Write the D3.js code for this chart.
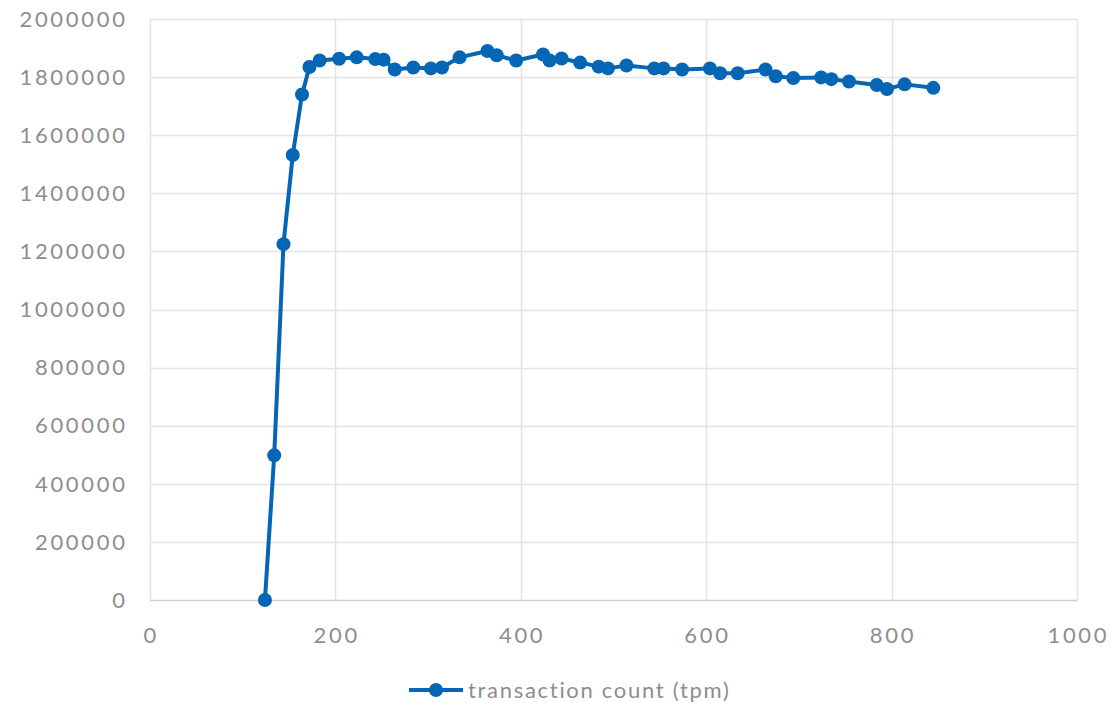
<!DOCTYPE html>
<html>
<head>
<meta charset="utf-8">
<script src="https://cdn.jsdelivr.net/npm/d3@7"></script>
<style>
  html, body { margin: 0; padding: 0; background: #fff; }
  svg { display: block; }
  text { font-family: "Lato", "Open Sans", sans-serif; fill: #8e8e8e; }
</style>
</head>
<body>
<svg id="chart" width="1111" height="703"></svg>
<script>
const seriesName = "transaction count (tpm)";
const xValues = [124, 134, 144, 154, 164, 172, 183, 204, 223, 243, 252, 264, 284, 303, 315, 334, 364, 374, 395, 424, 431, 444, 464, 484, 494, 514, 544, 554, 574, 604, 615, 634, 664, 675, 694, 724, 735, 754, 784, 795, 814, 845];
const yValues = [0, 498000, 1225000, 1532000, 1740000, 1835000, 1857000, 1863000, 1868000, 1862000, 1860000, 1826000, 1833000, 1830000, 1833000, 1868000, 1890000, 1875000, 1857000, 1878000, 1857000, 1864000, 1850000, 1836000, 1830000, 1840000, 1830000, 1830000, 1826000, 1830000, 1813000, 1813000, 1826000, 1803000, 1797000, 1799000, 1793000, 1785000, 1773000, 1759000, 1775000, 1763000];
const xTicks = [0, 200, 400, 600, 800, 1000];
const yTicks = [0, 200000, 400000, 600000, 800000, 1000000, 1200000, 1400000, 1600000, 1800000, 2000000];

(function () {
const color = "#0566b5";
const svg = d3.select("#chart");
const pl = 150, pr = 1077, pt = 19, pb = 600;
const x = d3.scaleLinear().domain([0, 1000]).range([pl, pr]);
const y = d3.scaleLinear().domain([0, 2000000]).range([pb, pt]);

// gridlines
svg.append("g").selectAll("line").data(yTicks).join("line")
  .attr("x1", pl).attr("x2", pr)
  .attr("y1", d => Math.round(y(d)) + 0.5).attr("y2", d => Math.round(y(d)) + 0.5)
  .attr("stroke", d => d === 0 ? "#d0d0d0" : "#e3e3e3").attr("stroke-width", 1.5);
svg.append("g").selectAll("line").data(xTicks).join("line")
  .attr("y1", pt).attr("y2", pb)
  .attr("x1", d => Math.round(x(d)) + 0.5).attr("x2", d => Math.round(x(d)) + 0.5)
  .attr("stroke", "#e3e3e3").attr("stroke-width", 1.5);

// y tick labels
svg.append("g").selectAll("text").data(yTicks).join("text")
  .attr("x", 125 + 2.7).attr("y", d => y(d))
  .attr("dy", "0.35em").attr("text-anchor", "end")
  .attr("font-size", 22).attr("letter-spacing", 2.7)
  .text(d => d3.format("d")(d));

// x tick labels
svg.append("g").selectAll("text").data(xTicks).join("text")
  .attr("x", d => x(d) + 1.35).attr("y", 635)
  .attr("dy", "0.35em").attr("text-anchor", "middle")
  .attr("font-size", 22).attr("letter-spacing", 2.7)
  .text(d => d);

// line
const pts = xValues.map((v, i) => [v, yValues[i]]);
svg.append("path").datum(pts)
  .attr("fill", "none").attr("stroke", color).attr("stroke-width", 4)
  .attr("stroke-linejoin", "round")
  .attr("d", d3.line().x(d => x(d[0])).y(d => y(d[1])));
svg.append("g").selectAll("circle").data(pts).join("circle")
  .attr("cx", d => x(d[0])).attr("cy", d => y(d[1])).attr("r", 7)
  .attr("fill", color);

// legend
const lg = svg.append("g");
lg.append("line").attr("x1", 409).attr("x2", 463).attr("y1", 690).attr("y2", 690)
  .attr("stroke", color).attr("stroke-width", 4);
lg.append("circle").attr("cx", 436).attr("cy", 690).attr("r", 7).attr("fill", color);
lg.append("text").attr("x", 468).attr("y", 690).attr("dy", "0.35em")
  .attr("font-size", 22).attr("letter-spacing", 1.7).text(seriesName);
})();
</script>
</body>
</html>
